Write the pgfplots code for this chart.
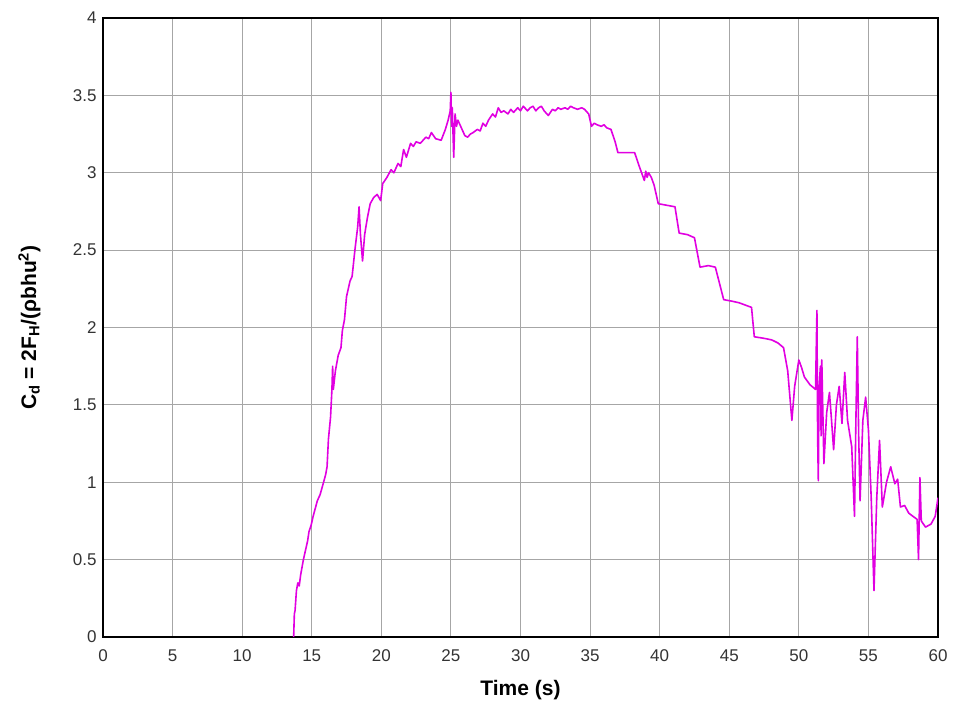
\documentclass[border=0pt]{standalone}
\usepackage{pgfplots}
\pgfplotsset{compat=1.18}
\usepackage{fontspec}
\setmainfont{Liberation Sans}
\definecolor{cdline}{RGB}{225,0,225}
\begin{document}
\begin{tikzpicture}[x=1pt,y=1pt]
\begin{axis}[
  at={(103pt,78pt)}, anchor=south west,
  scale only axis, width=835pt, height=619pt,
  xmin=0, xmax=60, ymin=0, ymax=4,
  xtick={0,5,...,60}, ytick={0,0.5,...,4},
  yticklabels={0,0.5,1,1.5,2,2.5,3,3.5,4},
  grid=major,
  grid style={gray!70, line width=0.9pt},
  axis line style={black, line width=2.2pt},
  major tick length=0pt,
  tick label style={font=\fontsize{17}{20}\selectfont, text=black!80},
  /pgf/number format/assume math mode=true,
  xticklabel style={yshift=-9pt},
  yticklabel style={xshift=-3pt},
  xlabel={\textbf{Time (s)}},
  ylabel={\textbf{C\textsubscript{d} = 2F\textsubscript{H}/(ρbhu\textsuperscript{2})}},
  every axis x label/.style={at={(axis description cs:0.5,-0.086)}, anchor=center, font=\fontsize{21}{24}\selectfont},
  every axis y label/.style={at={(axis description cs:-0.088,0.5)}, anchor=center, rotate=90, font=\fontsize{21}{24}\selectfont},
  clip=true,
]
\addplot[color=cdline, line width=1.6pt, line join=round] coordinates {
(13.7,0) (13.75,0.15) (13.8,0.17) (13.9,0.30) (14.0,0.35) (14.1,0.33) (14.2,0.40) (14.4,0.50)
(14.6,0.58) (14.7,0.62) (14.8,0.68) (14.95,0.72) (15.1,0.78) (15.4,0.88) (15.6,0.92) (15.85,1.0) (16.0,1.05)
(16.1,1.10) (16.2,1.28) (16.35,1.42) (16.45,1.60) (16.5,1.75) (16.55,1.60) (16.7,1.72)
(16.9,1.82) (17.1,1.87) (17.2,1.98) (17.35,2.05) (17.5,2.20) (17.6,2.24) (17.75,2.30)
(17.9,2.33) (18.1,2.50) (18.3,2.65) (18.4,2.78) (18.5,2.60) (18.65,2.43) (18.8,2.60)
(19.0,2.71) (19.2,2.80) (19.45,2.84) (19.7,2.86) (19.95,2.82) (20.1,2.93) (20.4,2.97)
(20.7,3.02) (20.9,3.00) (21.2,3.06) (21.4,3.04) (21.6,3.15) (21.8,3.10) (22.1,3.19) (22.3,3.17) (22.5,3.20)
(22.8,3.19) (23.0,3.21) (23.2,3.23) (23.4,3.22) (23.6,3.26) (23.9,3.22) (24.3,3.21) (24.6,3.28) (24.8,3.34)
(24.95,3.40) (25.0,3.52) (25.05,3.30) (25.1,3.42) (25.2,3.10) (25.3,3.38) (25.4,3.30) (25.5,3.34) (25.8,3.28)
(26.0,3.24) (26.2,3.23) (26.4,3.25) (26.6,3.26) (26.9,3.28) (27.1,3.27) (27.3,3.32) (27.5,3.30) (27.7,3.34) (28.0,3.38) (28.2,3.36) (28.4,3.42)
(28.6,3.39) (28.8,3.40) (29.1,3.38) (29.3,3.41) (29.5,3.39) (29.8,3.42) (30.0,3.40) (30.2,3.43) (30.5,3.40) (30.7,3.42) (30.9,3.43)
(31.1,3.40) (31.3,3.42) (31.5,3.43) (31.7,3.40) (32.0,3.37) (32.3,3.41) (32.5,3.40) (32.7,3.42) (32.9,3.41) (33.2,3.42) (33.4,3.41) (33.6,3.43)
(33.8,3.42) (34.1,3.41) (34.4,3.42) (34.6,3.41) (34.9,3.38) (35.1,3.30) (35.3,3.32) (35.5,3.31) (35.8,3.30) (36.0,3.31) (36.2,3.29)
(36.5,3.28) (36.8,3.20) (37.0,3.13) (37.5,3.13) (38.2,3.13) (38.5,3.05) (38.7,3.00) (38.9,2.95)
(39.0,3.01) (39.1,2.97) (39.2,3.00) (39.4,2.97) (39.6,2.92) (39.9,2.80) (40.5,2.79) (41.1,2.78) (41.4,2.61)
(42.0,2.60) (42.5,2.58) (42.9,2.39) (43.5,2.40) (44.0,2.39) (44.6,2.18) (45.2,2.17)
(45.7,2.16) (46.6,2.13) (46.8,1.94) (47.5,1.93) (48.05,1.92) (48.5,1.90) (48.9,1.87)
(49.2,1.72) (49.5,1.40) (49.7,1.62) (50.0,1.79) (50.2,1.74) (50.4,1.68) (50.8,1.63)
(51.2,1.60) (51.3,2.11) (51.35,1.30) (51.4,1.01) (51.45,1.60) (51.55,1.75) (51.6,1.30) (51.65,1.79) (51.8,1.12) (52.0,1.45)
(52.2,1.58) (52.35,1.40) (52.5,1.21) (52.7,1.50) (52.9,1.62) (53.1,1.38) (53.3,1.71)
(53.5,1.40) (53.8,1.23) (54.0,0.78) (54.1,1.40) (54.2,1.94) (54.3,1.30) (54.4,0.88) (54.6,1.40)
(54.8,1.55) (55.0,1.34) (55.2,0.90) (55.4,0.30) (55.6,0.90) (55.8,1.27) (56.0,0.84)
(56.3,1.00) (56.6,1.10) (56.9,0.99) (57.1,1.02) (57.3,0.84) (57.6,0.85) (57.9,0.80)
(58.2,0.78) (58.5,0.76) (58.6,0.50) (58.7,1.03) (58.8,0.75) (59.1,0.71) (59.5,0.73)
(59.8,0.78) (60.0,0.90)
};
\end{axis}
\path[use as bounding box] (0,0) rectangle (958,715);
\end{tikzpicture}
\end{document}
